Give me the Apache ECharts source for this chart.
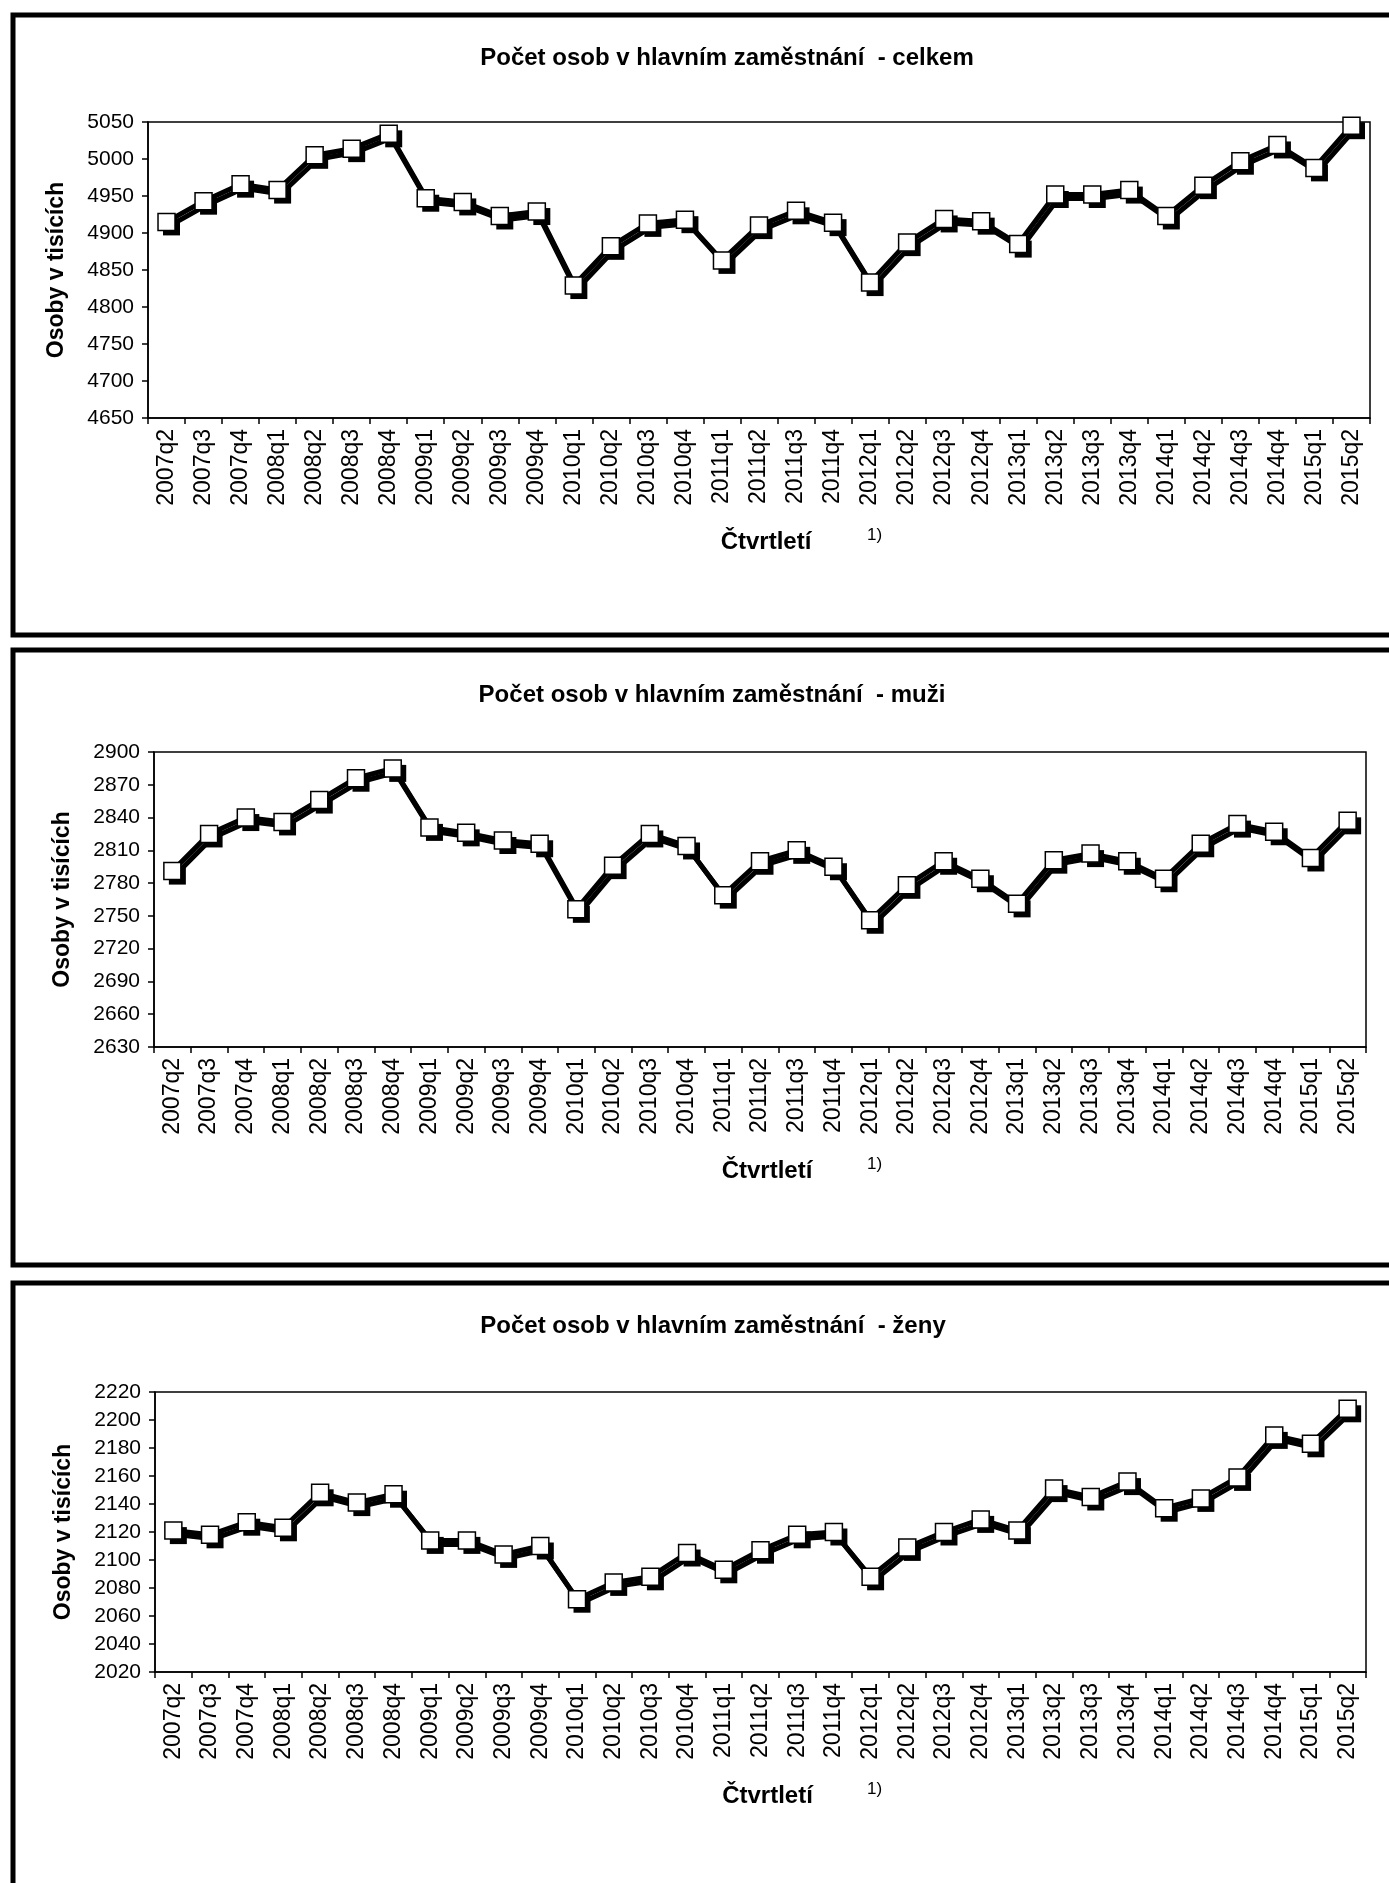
<!DOCTYPE html>
<html>
<head>
<meta charset="utf-8">
<title>Počet osob v hlavním zaměstnání</title>
<script src="https://cdn.jsdelivr.net/npm/echarts@6/dist/echarts.min.js"></script>
<style>
  html, body { margin: 0; padding: 0; background: #fff; }
  #chart { width: 1389px; height: 1883px; }
</style>
</head>
<body>
<div id="chart"></div>
<script>
const quarters = [
  "2007q2", "2007q3", "2007q4",
  "2008q1", "2008q2", "2008q3", "2008q4",
  "2009q1", "2009q2", "2009q3", "2009q4",
  "2010q1", "2010q2", "2010q3", "2010q4",
  "2011q1", "2011q2", "2011q3", "2011q4",
  "2012q1", "2012q2", "2012q3", "2012q4",
  "2013q1", "2013q2", "2013q3", "2013q4",
  "2014q1", "2014q2", "2014q3", "2014q4",
  "2015q1", "2015q2",
]

// hodnoty v tisících osob
const celkem = [
  4915, 4943, 4966,
  4958, 5005, 5014, 5034,
  4947, 4942, 4923, 4929,
  4829, 4882, 4913, 4918,
  4863, 4910, 4930, 4914,
  4833, 4887, 4919, 4916,
  4885, 4952, 4952, 4958,
  4923, 4964, 4997, 5019,
  4988, 5045,
]
const muzi = [
  2791, 2825, 2840,
  2836, 2856, 2876, 2885,
  2831, 2826, 2819, 2816,
  2756, 2796, 2825, 2814,
  2769, 2800, 2810, 2795,
  2746, 2778, 2800, 2784,
  2761, 2801, 2807, 2800,
  2784, 2816, 2834, 2827,
  2803, 2837,
]
const zeny = [
  2121, 2118, 2127,
  2123, 2148, 2141, 2147,
  2114, 2114, 2104, 2110,
  2072, 2084, 2088, 2105,
  2093, 2107, 2118, 2120,
  2088, 2109, 2120, 2129,
  2121, 2151, 2145, 2156,
  2137, 2144, 2159, 2189,
  2183, 2208,
]

const titles = [
  "Počet osob v hlavním zaměstnání  - celkem",
  "Počet osob v hlavním zaměstnání  - muži",
  "Počet osob v hlavním zaměstnání  - ženy",
]
const yMins = [4650, 2630, 2020]
const yMaxs = [5050, 2900, 2220]
const ySteps = [50, 30, 20]

const FONT = "'Liberation Sans', Arial, sans-serif"

// rozložení tří panelů (px)
const panels = [
  { box: [13, 15, 1400, 620], grid: { left: 148, top: 122, width: 1222, height: 296 }, titleY: 41, titleX: 722 },
  { box: [13, 650, 1400, 615], grid: { left: 154, top: 752, width: 1212, height: 295 }, titleY: 678, titleX: 707 },
  { box: [13, 1283, 1400, 640], grid: { left: 155, top: 1392, width: 1211, height: 280 }, titleY: 1309, titleX: 708 },
]

function buildOption() {
  const dataSets = [celkem, muzi, zeny]

  const grid = panels.map(p => ({
    ...p.grid,
    show: true,
    borderColor: "#000",
    borderWidth: 1.5,
    backgroundColor: "transparent",
  }))

  const xAxis = panels.map((p, i) => ({
    type: "category",
    gridIndex: i,
    data: quarters,
    boundaryGap: true,
    name: "Čtvrtletí",
    nameLocation: "middle",
    nameGap: 112,
    nameTextStyle: { fontFamily: FONT, fontSize: 24, fontWeight: "bold", color: "#000", padding: [0, 0, 0, 14] },
    axisLine: { lineStyle: { color: "#000", width: 1.5 } },
    axisTick: { show: true, length: 6, lineStyle: { color: "#000", width: 1.5 } },
    axisLabel: {
      interval: 0,
      rotate: 90,
      margin: 11,
      fontFamily: FONT,
      fontSize: 23,
      color: "#000",
    },
    splitLine: { show: false },
  }))

  const yAxis = panels.map((p, i) => ({
    type: "value",
    gridIndex: i,
    min: yMins[i],
    max: yMaxs[i],
    interval: ySteps[i],
    name: "Osoby v tisících",
    nameLocation: "middle",
    nameRotate: 90,
    nameGap: 80,
    nameTextStyle: { fontFamily: FONT, fontSize: 23, fontWeight: "bold", color: "#000" },
    axisLine: { show: true, lineStyle: { color: "#000", width: 1.5 } },
    axisTick: { show: true, length: 6, lineStyle: { color: "#000", width: 1.5 } },
    axisLabel: { margin: 14, fontFamily: FONT, fontSize: 21, color: "#000", formatter: v => String(v) },
    splitLine: { show: false },
  }))

  const series = []
  dataSets.forEach((values, i) => {
    // stín značek (černý čtverec posunutý vpravo dolů)
    series.push({
      type: "line",
      xAxisIndex: i,
      yAxisIndex: i,
      data: values,
      symbol: "rect",
      symbolSize: 17,
      symbolOffset: [5, 5],
      clip: false,
      z: 3,
      silent: true,
      lineStyle: { opacity: 0 },
      itemStyle: { color: "#000", borderWidth: 0 },
    })
    // hlavní čára s bílými čtverci
    series.push({
      type: "line",
      xAxisIndex: i,
      yAxisIndex: i,
      data: values,
      symbol: "rect",
      symbolSize: 17,
      clip: false,
      z: 4,
      lineStyle: {
        color: "#000",
        width: 5,
        shadowColor: "#000",
        shadowBlur: 0,
        shadowOffsetX: 3,
        shadowOffsetY: 4,
      },
      itemStyle: {
        color: "#fff",
        borderColor: "#000",
        borderWidth: 1.5,
      },
    })
  })

  const title = []
  panels.forEach((p, i) => {
    title.push({
      text: titles[i],
      left: p.titleX,
      top: p.titleY,
      textAlign: "center",
      textStyle: { fontFamily: FONT, fontSize: 24, fontWeight: "bold", color: "#000" },
    })
    // poznámka pod čarou u osy x
    title.push({
      text: "1)",
      left: 862,
      top: p.grid.top + p.grid.height + 104,
      textStyle: { fontFamily: FONT, fontSize: 17, fontWeight: "normal", color: "#000" },
    })
  })

  const graphic = panels.map(p => ({
    type: "rect",
    shape: { x: p.box[0], y: p.box[1], width: p.box[2], height: p.box[3] },
    style: { fill: "none", stroke: "#000", lineWidth: 5 },
    silent: true,
  }))

  return {
    animation: false,
    backgroundColor: "#fff",
    title,
    grid,
    xAxis,
    yAxis,
    series,
    graphic,
  }
}

const chart = echarts.init(document.getElementById("chart"))
chart.setOption(buildOption())
</script>
</body>
</html>
